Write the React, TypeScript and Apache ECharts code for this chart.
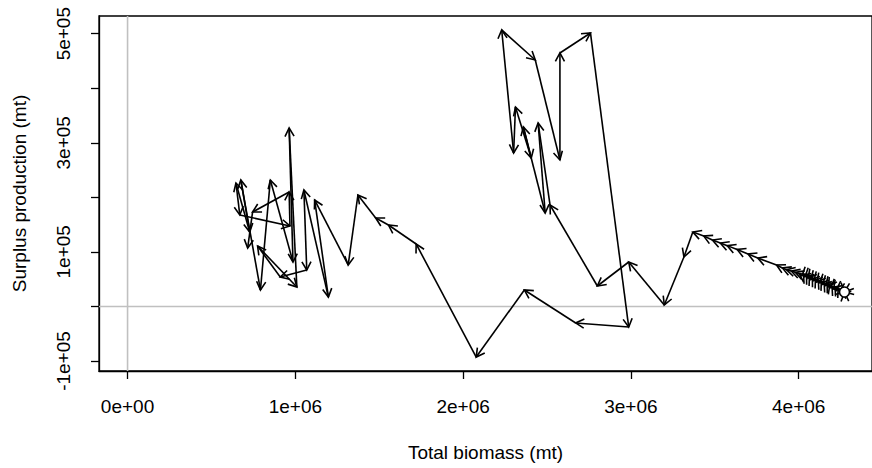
import React, { useEffect, useRef } from "react";
import * as echarts from "echarts";

// Phase path: total biomass (mt) vs surplus production (mt), in time order from the open circle
const biomass = [
  4273000, 4258000, 4244000, 4235000, 4226000, 4217000, 4208000, 4199000, 4191000, 4185000,
  4179000, 4170000, 4161000, 4152000, 4144000, 4135000, 4126000, 4117000, 4109000, 4100000,
  4091000, 4082000, 4073000, 4064000, 4056000, 4047000, 4038000, 4029000, 4020000, 4003000,
  3980000, 3956000, 3927000, 3903000,
  3868000, 3756000, 3698000, 3633000, 3574000, 3533000, 3486000, 3434000, 3369000,
  3316000, 3199000, 2987000, 2800000, 2518000,
  2447000, 2489000, 2359000, 2406000, 2312000, 2301000, 2230000, 2430000, 2577000, 2577000,
  2759000, 2987000, 2671000, 2365000, 2078000, 1720000, 1555000, 1479000, 1373000, 1315000,
  1115000, 1197000, 1051000, 1068000, 910000, 775000, 1009000, 963000, 986000, 851000,
  792000, 675000, 728000, 646000, 669000, 968000, 963000, 745000, 716000,
];
const surplusProduction = [
  26500, 30000, 27500, 33000, 31000, 35500, 32000, 36500, 34500, 39500,
  36500, 41500, 38500, 43000, 40500, 46000, 43500, 48000, 45000, 50500,
  47500, 52500, 49500, 55000, 52000, 57000, 54500, 59000, 56500, 60000,
  62500, 65000, 67500, 70500,
  76000, 88800, 96200, 104400, 111500, 116300, 121800, 129200, 136500,
  90600, 2700, 81500, 37500, 186000,
  336300, 171300, 329000, 272100, 365600, 281300, 506800, 451800, 268500, 464600,
  501300, -37700, -30300, 30200, -92700, 114500, 149300, 162200, 204300, 76000,
  195200, 17300, 213500, 66800, 54000, 110800, 35700, 327100, 81500, 231800,
  30200, 231800, 136500, 226300, 167700, 147500, 209800, 173100, 107200,
];

const xTickValues = [0, 1000000, 2000000, 3000000, 4000000];
const xTickLabels = ["0e+00", "1e+06", "2e+06", "3e+06", "4e+06"];
const yTickValues = [-100000, 0, 100000, 200000, 300000, 400000, 500000];
const yLabelValues = [-100000, 100000, 300000, 500000];
const yTickLabels = ["-1e+05", "1e+05", "3e+05", "5e+05"];

const FONT = '"Liberation Sans", Arial, Helvetica, sans-serif';
const LW = 1.6;

export default function App() {
  const ref = useRef<HTMLDivElement>(null);
  useEffect(() => {
    const chart = echarts.init(ref.current!, null, { renderer: "svg" });
    const segments: number[][] = [];
    for (let i = 1; i < biomass.length; i++) {
      segments.push([biomass[i - 1], surplusProduction[i - 1], biomass[i], surplusProduction[i]]);
    }
    const arrowItem = (params: any, api: any) => {
      const p1 = api.coord([api.value(0), api.value(1)]);
      const p2 = api.coord([api.value(2), api.value(3)]);
      const ang = Math.atan2(p2[1] - p1[1], p2[0] - p1[0]);
      const L = 9.5;
      const a = 0.5;
      const h1 = [p2[0] - L * Math.cos(ang - a), p2[1] - L * Math.sin(ang - a)];
      const h2 = [p2[0] - L * Math.cos(ang + a), p2[1] - L * Math.sin(ang + a)];
      return {
        type: "group",
        children: [
          {
            type: "line",
            shape: { x1: p1[0], y1: p1[1], x2: p2[0], y2: p2[1] },
            style: { stroke: "#000", lineWidth: LW },
          },
          {
            type: "polyline",
            shape: { points: [h1, p2, h2] },
            style: { stroke: "#000", fill: null, lineWidth: LW },
          },
        ],
      };
    };
    const refItem = (params: any, api: any) => {
      const cs = params.coordSys;
      const o = api.coord([0, 0]);
      return {
        type: "group",
        children: [
          {
            type: "line",
            shape: { x1: o[0], y1: cs.y, x2: o[0], y2: cs.y + cs.height },
            style: { stroke: "#c0c0c0", lineWidth: 1.6 },
          },
          {
            type: "line",
            shape: { x1: cs.x, y1: o[1], x2: cs.x + cs.width, y2: o[1] },
            style: { stroke: "#c0c0c0", lineWidth: 1.6 },
          },
        ],
      };
    };
    const rayAngles = [15, 65, 110, 165, 205, 250, 300, 340];
    const startItem = (params: any, api: any) => {
      const c = api.coord([api.value(0), api.value(1)]);
      const children: any[] = rayAngles.map((d) => {
        const r = (d * Math.PI) / 180;
        return {
          type: "line",
          shape: {
            x1: c[0] + 5 * Math.cos(r),
            y1: c[1] + 5 * Math.sin(r),
            x2: c[0] + 10 * Math.cos(r),
            y2: c[1] + 10 * Math.sin(r),
          },
          style: { stroke: "#000", lineWidth: LW },
        };
      });
      children.push({
        type: "circle",
        shape: { cx: c[0], cy: c[1], r: 5 },
        style: { fill: "#fff", stroke: "#000", lineWidth: LW },
      });
      return { type: "group", children };
    };
    chart.setOption({
      animation: false,
      grid: {
        left: 99,
        top: 16,
        width: 785,
        height: 355,
        show: true,
        borderColor: "#000",
        borderWidth: 1.3,
        backgroundColor: "transparent",
      },
      xAxis: {
        type: "value",
        min: -170200,
        max: 4437000,
        splitLine: { show: false },
        axisLine: { show: true, onZero: false, lineStyle: { color: "#000", width: 1.3 } },
        axisTick: { show: true, length: 8, customValues: xTickValues, lineStyle: { color: "#000", width: 1.3 } },
        axisLabel: {
          customValues: xTickValues,
          formatter: (v: number) => {
            const i = xTickValues.indexOf(v);
            return i >= 0 ? xTickLabels[i] : "";
          },
          color: "#000",
          fontSize: 19,
          fontFamily: FONT,
          margin: 26,
        },
        name: "Total biomass (mt)",
        nameLocation: "middle",
        nameGap: 72,
        nameTextStyle: { color: "#000", fontSize: 19, fontFamily: FONT },
      },
      yAxis: {
        type: "value",
        min: -118300,
        max: 532400,
        splitLine: { show: false },
        axisLine: { show: true, onZero: false, lineStyle: { color: "#000", width: 1.3 } },
        axisTick: { show: true, length: 8, customValues: yTickValues, lineStyle: { color: "#000", width: 1.3 } },
        axisLabel: {
          customValues: yLabelValues,
          formatter: (v: number) => {
            const i = yLabelValues.indexOf(v);
            return i >= 0 ? yTickLabels[i] : "";
          },
          rotate: 90,
          color: "#000",
          fontSize: 19,
          fontFamily: FONT,
          margin: 26,
        },
        name: "Surplus production (mt)",
        nameLocation: "middle",
        nameRotate: 90,
        nameGap: 70,
        nameTextStyle: { color: "#000", fontSize: 19, fontFamily: FONT },
      },
      series: [
        {
          type: "custom",
          renderItem: refItem,
          data: [[0, 0]],
          z: 1,
          silent: true,
        },
        {
          type: "custom",
          renderItem: arrowItem,
          dimensions: ["x1", "y1", "x2", "y2"],
          encode: { x: [0, 2], y: [1, 3] },
          data: segments,
          z: 2,
          silent: true,
        },
        {
          type: "custom",
          renderItem: startItem,
          data: [[biomass[0], surplusProduction[0]]],
          z: 3,
          silent: true,
        },
      ],
    });
    return () => chart.dispose();
  }, []);
  return (
    <div
      ref={ref}
      style={{ position: "absolute", left: 0, top: 0, width: 872, height: 468, background: "#fff" }}
    />
  );
}
